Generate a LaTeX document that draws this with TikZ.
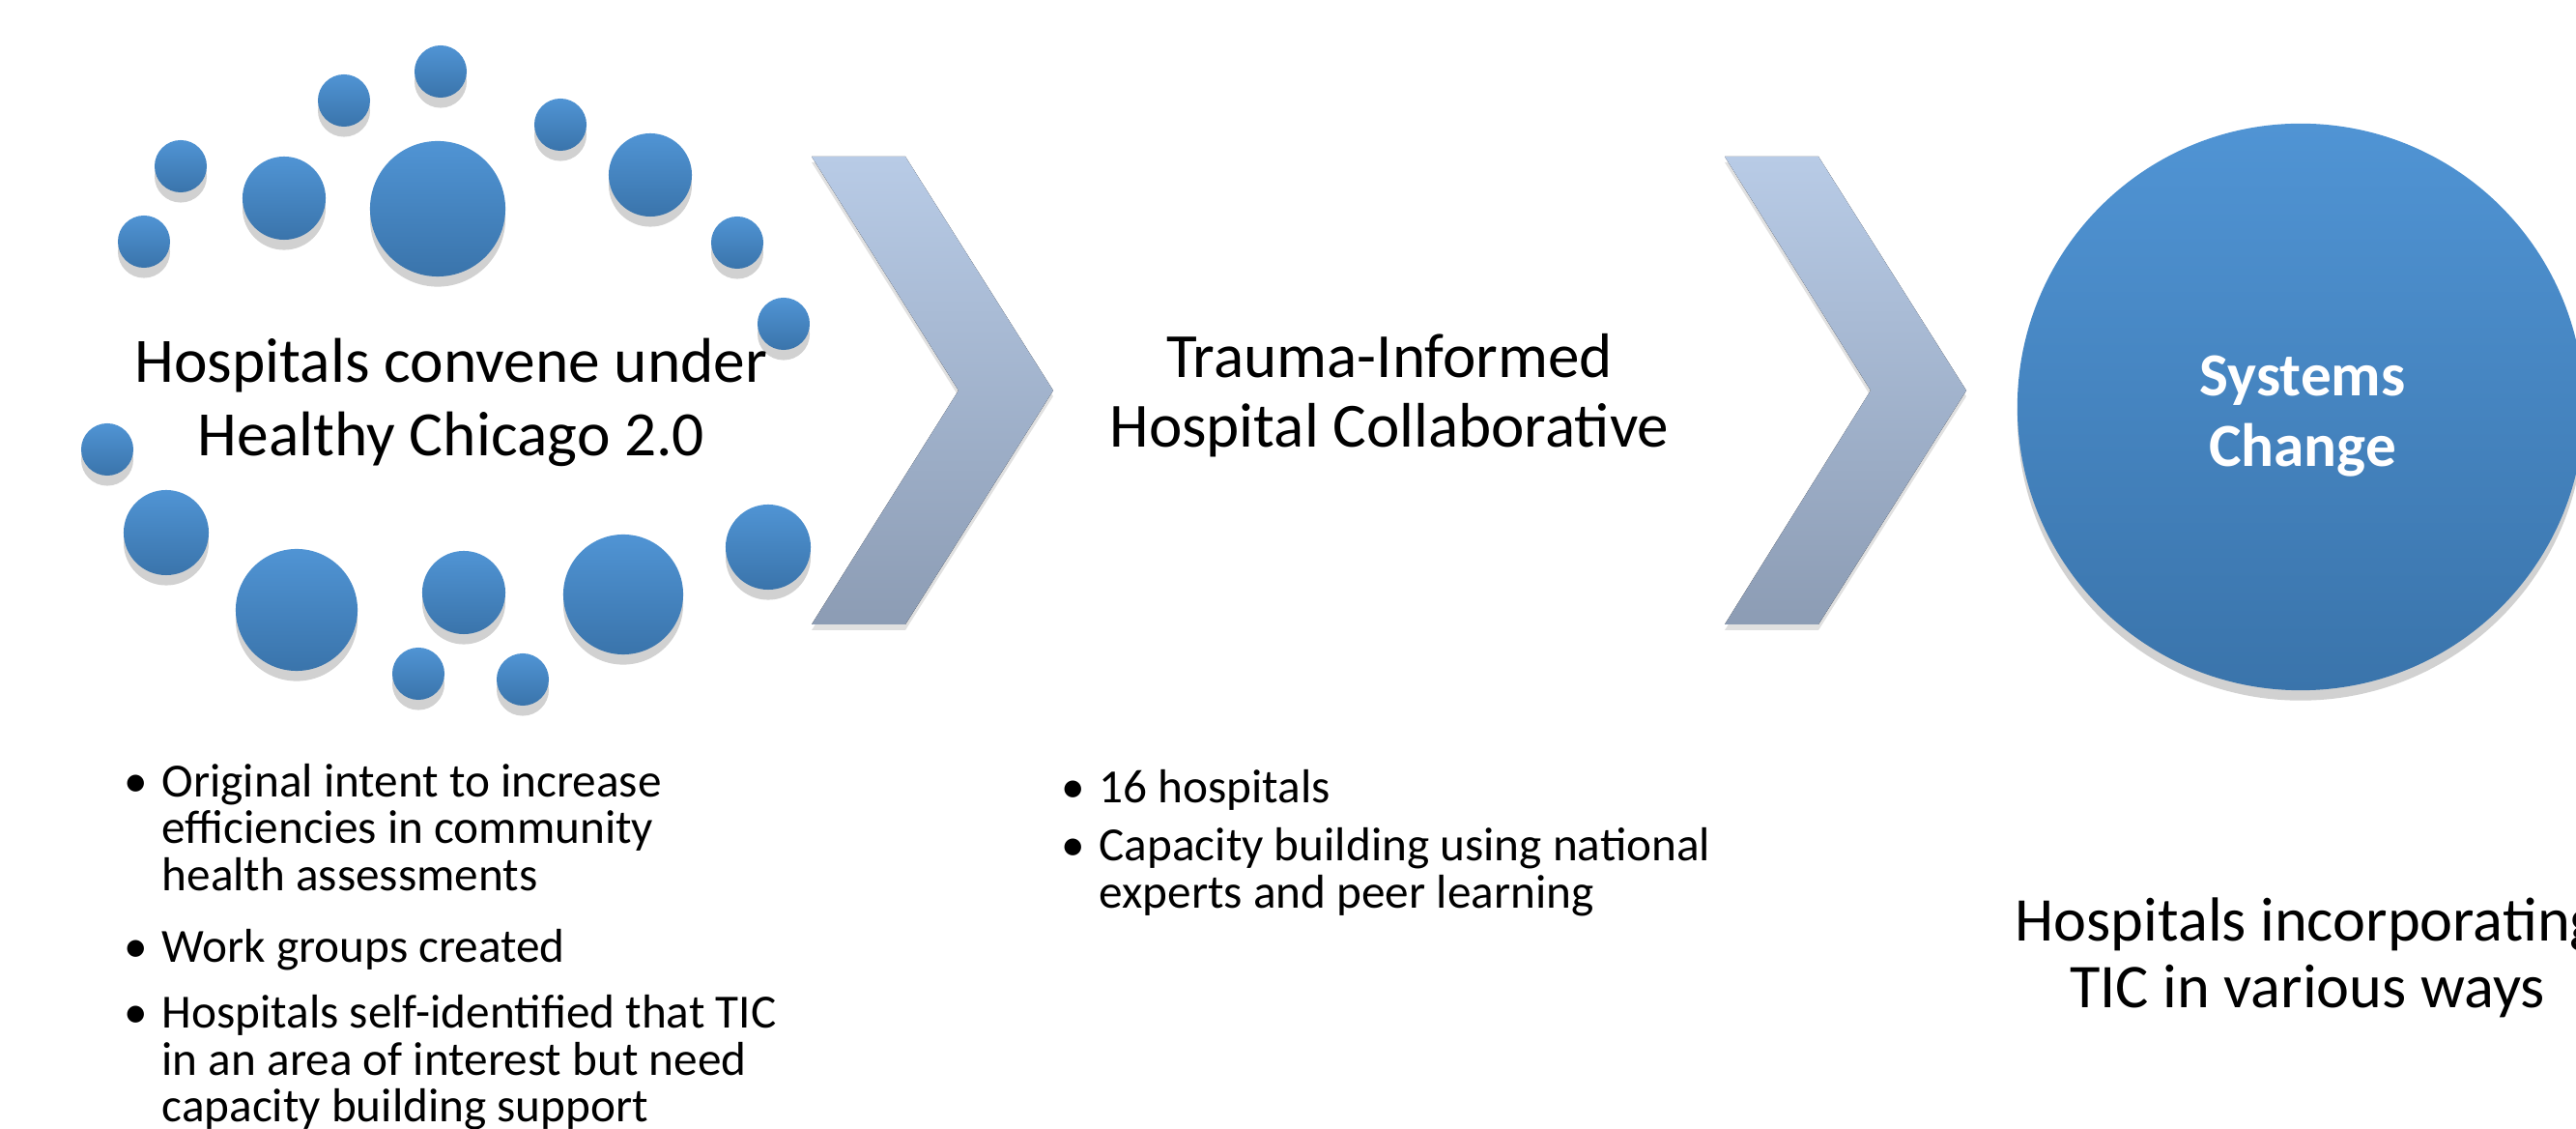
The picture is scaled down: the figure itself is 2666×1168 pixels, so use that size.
\documentclass[tikz,border=0pt]{standalone}
\usepackage{fontspec}
\setmainfont{Carlito}
\usetikzlibrary{shadows}
\newlength\pxu \setlength\pxu{0.01cm}
\definecolor{dotTop}{RGB}{80,148,212}
\definecolor{dotBot}{RGB}{58,116,171}
\definecolor{chevTop}{RGB}{184,203,230}
\definecolor{chevBot}{RGB}{140,156,180}
\newcommand\twolines[1]{\begin{tabular}[t]{@{}c@{}}#1\end{tabular}}
\tikzset{
  dotc/.style={circle, inner sep=0pt, draw=none, top color=dotTop, bottom color=dotBot,
    drop shadow={shadow xshift=0pt, shadow yshift=-3pt, opacity=0.18, fill=black}},
  chev/.style={top color=chevTop, bottom color=chevBot, draw=none},
  chevshadow/.style={fill=black, opacity=0.12, draw=none},
  titletext/.style={inner sep=0pt, anchor=base, font=\fontsize{18.6}{21.4}\selectfont},
  midtext/.style={inner sep=0pt, anchor=base, font=\fontsize{18.5}{20.4}\selectfont},
  outtext/.style={inner sep=0pt, anchor=base, font=\fontsize{18.3}{19.6}\selectfont},
  systext/.style={inner sep=0pt, anchor=base, text=white, font=\bfseries\fontsize{18}{20.5}\selectfont},
  blist/.style={inner sep=0pt, anchor=base west, font=\fontsize{14}{13.2}\selectfont},
}
\begin{document}
\begin{tikzpicture}[x=0.01cm,y=-0.01cm]
\useasboundingbox (0,0) rectangle (2666,1168);
\clip (0,0) rectangle (2666,1168);
\fill[white] (0,0) rectangle (2666,1168);

% cluster of dots
\foreach \n/\x/\y/\r in {
  d1/456/74/27, d2/356/104/27, d3/580/129/27, d4/187/172/27,
  d5/294/205/43, d6/453/216/70, d7/673/181/43, d8/149/250/27,
  d9/763/251/27, d10/811/335/27, d11/111/465/27, d12/172/551/44,
  d13/307/631/63, d14/480/613/43, d15/645/615/62, d16/795/566/44,
  d17/433/697/27, d18/541/703/27}
  \node[dotc, minimum size=\r*0.02cm] (\n) at (\x,\y) {};

% chevrons
\fill[chevshadow] (840,168) -- (937,168) -- (1090,410) -- (937,652) -- (840,652) -- (992,410) -- cycle;
\fill[chev] (840,162) -- (937,162) -- (1090,404) -- (937,646) -- (840,646) -- (992,404) -- cycle;
\fill[chevshadow] (1785,168) -- (1882,168) -- (2035,410) -- (1882,652) -- (1785,652) -- (1936,410) -- cycle;
\fill[chev] (1785,162) -- (1882,162) -- (2035,404) -- (1882,646) -- (1785,646) -- (1936,404) -- cycle;

% systems change circle
\node[dotc, minimum size=5.86cm] (sys) at (2381,421) {};
\node[systext] (systxt) at (2383,410) {\twolines{Systems\\Change}};

% titles
\node[titletext] (t1) at (467,396) {\twolines{Hospitals convene under\\Healthy Chicago 2.0}};
\node[midtext] (t2) at (1438,391) {\twolines{Trauma-Informed\\Hospital Collaborative}};
\node[outtext] (t3) at (2388,974) {\twolines{Hospitals incorporating\\TIC in various ways}};

% left bullets
\node[blist] (l1) at (128,825) {\begin{tabular}[t]{@{}l@{}l@{}}\makebox[39\pxu][l]{\textbullet}&Original intent to increase\\&efficiencies in community\\&health assessments\end{tabular}};
\node[blist] (l2) at (128,996) {\begin{tabular}[t]{@{}l@{}l@{}}\makebox[39\pxu][l]{\textbullet}&Work groups created\end{tabular}};
\node[blist] (l3) at (128,1064) {\begin{tabular}[t]{@{}l@{}l@{}}\makebox[39\pxu][l]{\textbullet}&Hospitals self-identified that TIC\\&in an area of interest but need\\&capacity building support\end{tabular}};

% middle bullets
\node[blist] (m1) at (1098,831) {\begin{tabular}[t]{@{}l@{}l@{}}\makebox[39\pxu][l]{\textbullet}&16 hospitals\end{tabular}};
\node[blist] (m2) at (1098,891) {\begin{tabular}[t]{@{}l@{}l@{}}\makebox[39\pxu][l]{\textbullet}&Capacity building using national\\&experts and peer learning\end{tabular}};
\end{tikzpicture}
\end{document}
